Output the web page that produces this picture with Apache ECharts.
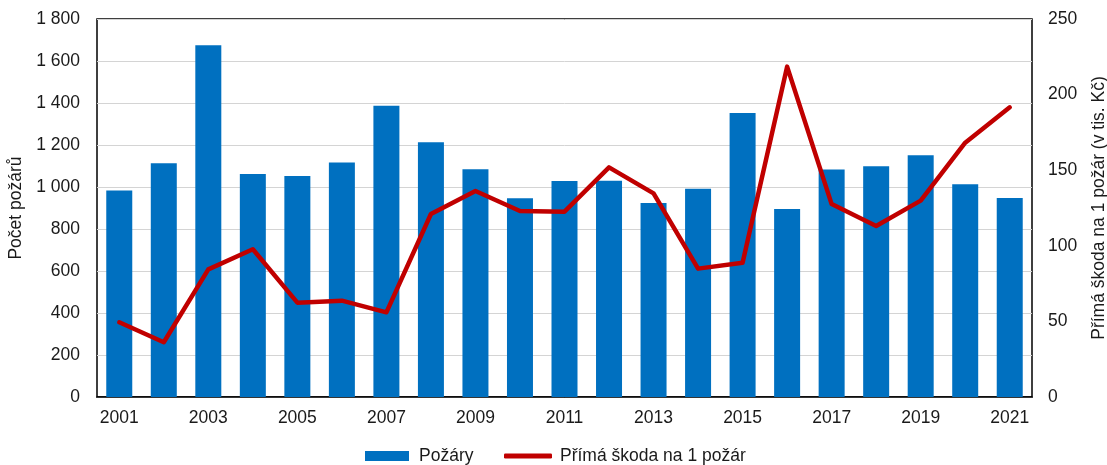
<!DOCTYPE html>
<html>
<head>
<meta charset="utf-8">
<script src="https://cdn.jsdelivr.net/npm/echarts@6/dist/echarts.min.js"></script>
<style>
html,body{margin:0;padding:0;background:#fff;}
#chart{width:1107px;height:465px;}
</style>
</head>
<body>
<div id="chart"></div>
<script>
const years = ['2001','2002','2003','2004','2005','2006','2007','2008','2009','2010','2011','2012','2013','2014','2015','2016','2017','2018','2019','2020','2021'];
const pozary = [983, 1113, 1675, 1062, 1052, 1117, 1387, 1213, 1084, 946, 1029, 1030, 924, 992, 1352, 895, 1083, 1099, 1151, 1013, 948];
const skoda = [49.4, 36.2, 84.4, 97.7, 62.4, 63.7, 56.0, 121.0, 136.2, 123.0, 122.6, 151.9, 134.7, 84.9, 88.8, 218.5, 127.6, 113.1, 129.9, 168.2, 191.6];
const leftName = 'Počet požárů';
const rightName = 'Přímá škoda na 1 požár (v tis. Kč)';
const barName = 'Požáry';
const lineName = 'Přímá škoda na 1 požár';

const font = 'Arial, "Liberation Sans", sans-serif';
const fs = 17.5;
const tc = '#1a1a1a';
const chart = echarts.init(document.getElementById('chart'), null, {renderer:'canvas'});
chart.setOption({
  animation: false,
  backgroundColor: '#fff',
  grid: {left: 97, right: 75, top: 19, bottom: 68, show: true, borderColor: '#000', borderWidth: 1.5,
         backgroundColor: 'transparent', outerBoundsMode: 'none', containLabel: false},
  legend: [
    {data: [barName], left: 360, top: 442, icon: 'rect', itemWidth: 44, itemHeight: 10, itemGap: 0,
     textStyle: {fontFamily: font, fontSize: fs, color: tc, padding: [0,0,0,5]}},
    {data: [lineName], left: 499, top: 442, icon: 'roundRect', itemWidth: 48, itemHeight: 5, itemGap: 0,
     textStyle: {fontFamily: font, fontSize: fs, color: tc, padding: [0,0,0,3]}}
  ],
  xAxis: {
    type: 'category', data: years, boundaryGap: true,
    axisLine: {show: true, lineStyle: {color: '#000', width: 1.5}},
    axisTick: {show: false},
    axisLabel: {interval: 1, fontFamily: font, fontSize: fs, color: tc, margin: 12}
  },
  yAxis: [
    {type: 'value', min: 0, max: 1800, interval: 200,
     name: leftName, nameLocation: 'middle', nameGap: 72, nameRotate: 90,
     nameTextStyle: {fontFamily: font, fontSize: fs, color: tc},
     axisLine: {show: false}, axisTick: {show: false},
     axisLabel: {fontFamily: font, fontSize: fs, color: tc, margin: 17,
       formatter: v => String(v).replace(/\B(?=(\d{3})+(?!\d))/g, ' ')},
     splitLine: {show: true, lineStyle: {color: '#d4d4d4', width: 1}}},
    {type: 'value', min: 0, max: 250, interval: 50,
     name: rightName, nameLocation: 'middle', nameGap: 58, nameRotate: 90,
     nameTextStyle: {fontFamily: font, fontSize: fs, color: tc},
     axisLine: {show: false}, axisTick: {show: false},
     axisLabel: {fontFamily: font, fontSize: fs, color: tc, margin: 16},
     splitLine: {show: false}}
  ],
  series: [
    {name: barName, type: 'bar', data: pozary, yAxisIndex: 0, barWidth: 26,
     itemStyle: {color: '#0070C0'}},
    {name: lineName, type: 'line', data: skoda, yAxisIndex: 1, showSymbol: false, symbol: 'none',
     lineStyle: {color: '#C00000', width: 4.5, cap: 'round', join: 'round'}, itemStyle: {color: '#C00000'}}
  ]
});
</script>
</body>
</html>
